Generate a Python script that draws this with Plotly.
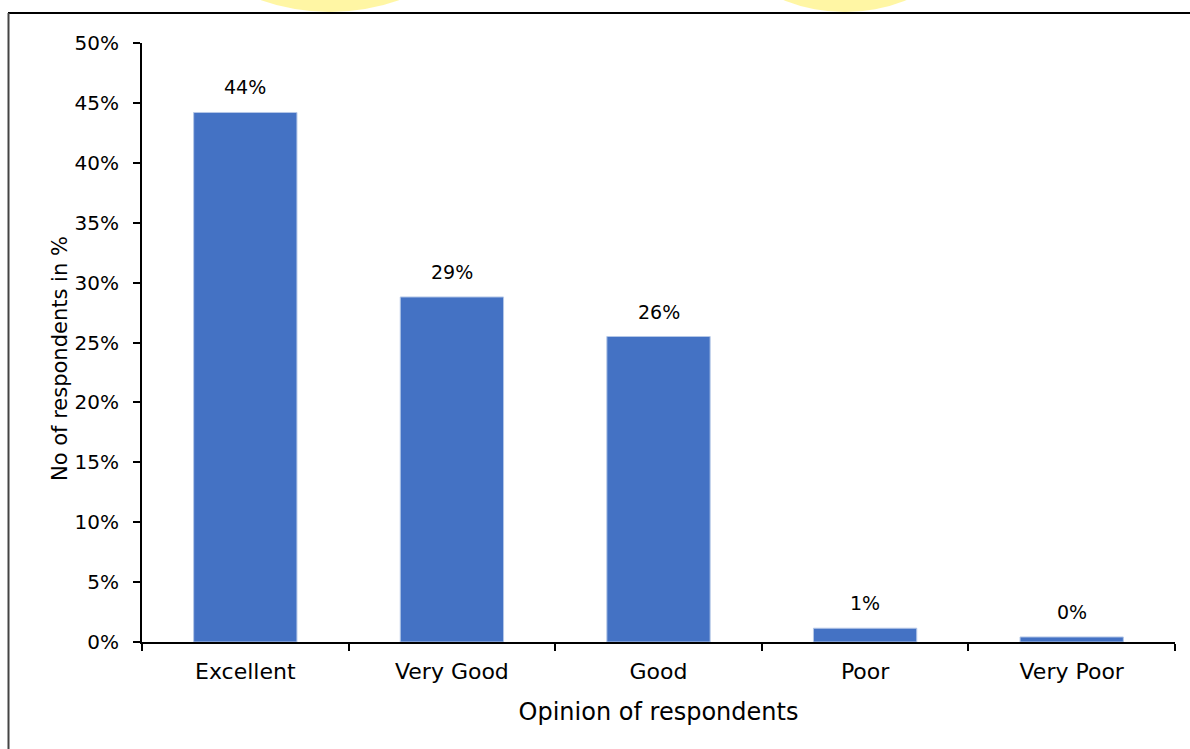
import plotly.graph_objects as go

categories = ["Excellent", "Very Good", "Good", "Poor", "Very Poor"]
values = [0.442, 0.288, 0.255, 0.0115, 0.0042]
y_ticks = [0, 0.05, 0.10, 0.15, 0.20, 0.25, 0.30, 0.35, 0.40, 0.45, 0.50]
y_tick_labels = ["0%", "5%", "10%", "15%", "20%", "25%", "30%", "35%", "40%", "45%", "50%"]
y_title = "No of respondents in %"
x_title = "Opinion of respondents"

FONT = "DejaVu Sans"

fig = go.Figure()
fig.add_trace(go.Bar(
    x=categories, y=values,
    marker=dict(color="#4472C4", line=dict(color="#B4C7E7", width=1)),
    width=0.5,
    hoverinfo="skip",
))

for c, v in zip(categories, values):
    fig.add_annotation(x=c, y=v, text=f"{v*100:.0f}%", showarrow=False,
                       yanchor="bottom", yshift=12,
                       font=dict(family=FONT, size=19, color="#000000"))

def py(p):
    return (642 - p) / 599

def px(p):
    return (p - 142) / 1033

# y axis title placed as in the reference (slightly below centre)
fig.add_annotation(xref="paper", yref="paper", x=px(60), y=py(358), text=y_title,
                   textangle=-90, showarrow=False, xanchor="center", yanchor="middle",
                   font=dict(family=FONT, size=21, color="#000000"))

# watermark remnants above the chart frame
fig.add_shape(type="circle", xref="paper", yref="paper", layer="below",
              x0=px(150), x1=px(510), y0=py(12), y1=py(-300),
              fillcolor="#FFF59A", line=dict(width=0), opacity=0.9)
fig.add_shape(type="circle", xref="paper", yref="paper", layer="below",
              x0=px(690), x1=px(1000), y0=py(12), y1=py(-280),
              fillcolor="#FFF59A", line=dict(width=0), opacity=0.9)

fig.update_layout(
    width=1190, height=749,
    margin=dict(l=142, r=15, t=43, b=107),
    paper_bgcolor="white", plot_bgcolor="white",
    showlegend=False,
    bargap=0.5,
    font=dict(family=FONT, color="#000000"),
    xaxis=dict(
        title=dict(text=x_title, font=dict(family=FONT, size=24), standoff=20),
        tickfont=dict(family=FONT, size=22),
        ticklabelstandoff=9,
        showline=True, linecolor="#000000", linewidth=2,
        ticks="outside", tickson="boundaries", ticklen=7, tickwidth=1.5, tickcolor="#000000",
        showgrid=False, zeroline=False,
    ),
    yaxis=dict(
        tickfont=dict(family=FONT, size=20),
        ticklabelstandoff=10,
        range=[0, 0.5], tickvals=y_ticks, ticktext=y_tick_labels,
        showline=True, linecolor="#000000", linewidth=2,
        ticks="outside", ticklen=7, tickwidth=1.5, tickcolor="#000000",
        showgrid=False, zeroline=False,
    ),
)

# chart frame: top and left edges
fig.add_shape(type="line", xref="paper", yref="paper",
              x0=px(8), x1=px(1190), y0=py(13), y1=py(13),
              line=dict(color="#000000", width=2))
fig.add_shape(type="line", xref="paper", yref="paper",
              x0=px(8.5), x1=px(8.5), y0=py(13), y1=py(760),
              line=dict(color="#444444", width=2))

fig.write_html("out.html")
